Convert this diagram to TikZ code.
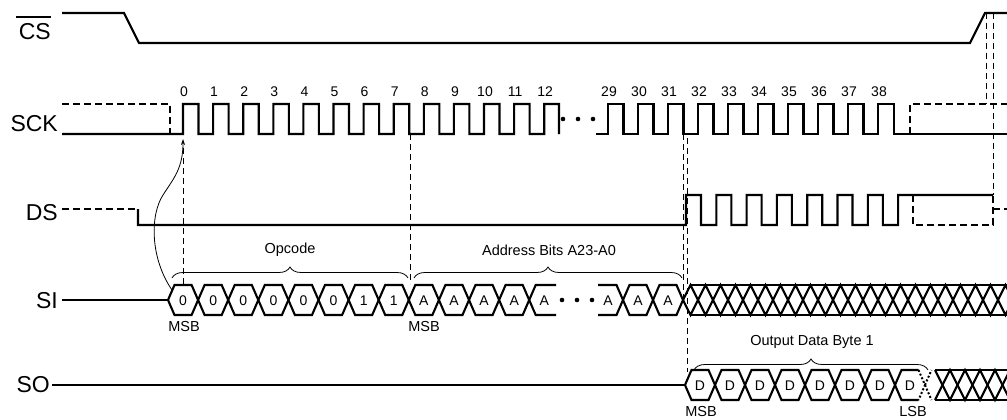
\documentclass[tikz,border=0pt]{standalone}
\usepackage{fontspec}
\setmainfont{Liberation Sans}
\usetikzlibrary{decorations.pathreplacing,arrows.meta}
\begin{document}
\begin{tikzpicture}[x=1pt,y=-1pt,
  sig/.style={line width=2.1pt,line join=miter,line cap=butt},
  dsig/.style={line width=2.1pt,dash pattern=on 7pt off 4pt},
  guide/.style={line width=1pt,dash pattern=on 6pt off 4pt},
  lbl/.style={font=\fontsize{23}{23}\selectfont,anchor=east,inner sep=0pt},
  small/.style={font=\fontsize{14}{14}\selectfont,inner sep=0pt},
  btxt/.style={font=\fontsize{14.5}{14.5}\selectfont,inner sep=0pt},
  brc/.style={decorate,decoration={brace,amplitude=11pt},line width=0.8pt}]
\clip (0,0) rectangle (1007,420);

% labels
\node[lbl] (cs) at (51,32) {CS};
\draw[line width=1.3pt] (16,17) -- (51,17);
\node[lbl] (sck) at (58,123.5) {SCK};
\node[lbl] (ds) at (58,213) {DS};
\node[lbl] (si) at (58,301) {SI};
\node[lbl] (so) at (50,385) {SO};

% CS
\draw[sig] (62,13) -- (124,13) -- (139,43) -- (970,43) -- (985,13) -- (1007,13);

% SCK
\draw[sig] (62,134) -- (183,134) foreach \k in {0,...,11} { -- ({183+30.1*\k},104) -- ({198.5+30.1*\k},104) -- ({198.5+30.1*\k},134) -- ({213.1+30.1*\k},134) } -- (544.2,104) -- (559,104) -- (559,134);
\draw[sig] (596,134) -- (608,134) foreach \k in {0,...,8} { -- ({608+30*\k},104) -- ({623.5+30*\k},104) -- ({623.5+30*\k},134) -- ({638+30*\k},134) } -- (878,104) -- (894,104) -- (894,134) -- (1007,134);
\fill (563,119) circle (2.3) (578,119) circle (2.3) (593,119) circle (2.3);
\draw[dsig] (62,104) -- (170,104) -- (170,134);
\draw[dsig] (910,134) -- (910,104) -- (1007,104);
\foreach \k in {0,...,12} \node[small] (c\k) at ({184+30.1*\k},92) {\k};
\foreach \k in {29,...,38} \node[small] (c\k) at ({609+30*(\k-29)},92) {\k};

% DS
\draw[dsig] (62,209) -- (138,209);
\draw[sig] (138,209) -- (138,225) -- (686,225) foreach \k in {0,...,6} { -- ({686+30.3*\k},195) -- ({701+30.3*\k},195) -- ({701+30.3*\k},225) -- ({716.3+30.3*\k},225) } -- (898.1,195) -- (993,195);
\draw[dsig] (913,195) -- (913,225) -- (993,225) -- (993,195);
\draw[dsig] (993,209) -- (1007,209);

% guides
\draw[guide] (986,13) -- (986,104);
\draw[guide] (993,13) -- (993,195);
\draw[guide] (183,148) -- (183,284);
\draw[guide] (410,134) -- (410,284);
\draw[guide] (683,134) -- (683,300);
\draw[guide] (687,138) -- (687,372);

% arrow
\draw[line width=0.8pt,-{Stealth[length=6pt,width=4pt]}] (172,290) .. controls (150,258) and (150,215) .. (163,195) .. controls (174,178) and (183,168) .. (183,139);

% SI
\draw[sig] (62,300) -- (168,300);
\foreach \k in {0,...,11}
  \draw[sig] ({168+30.1*\k},300) -- ({174.5+30.1*\k},285) -- ({191.6+30.1*\k},285) -- ({198.1+30.1*\k},300) -- ({191.6+30.1*\k},315) -- ({174.5+30.1*\k},315) -- cycle;
\draw[sig] (556,285) -- (535.7,285) -- (529.2,300) -- (535.7,315) -- (556,315);
\draw[sig] (598,285) -- (616.5,285) -- (623,300) -- (616.5,315) -- (598,315);
\foreach \a in {623,653}
  \draw[sig] (\a,300) -- ({\a+6.5},285) -- ({\a+23.5},285) -- ({\a+30},300) -- ({\a+23.5},315) -- ({\a+6.5},315) -- cycle;
\draw[sig] (683,300) -- (690.5,315) foreach \k in {0,...,10} { -- ({705.5+30*\k},285) -- ({720.5+30*\k},315) };
\draw[sig] (683,300) -- (690.5,285) foreach \k in {0,...,10} { -- ({705.5+30*\k},315) -- ({720.5+30*\k},285) };
\draw[sig] (690.5,285) -- (1007,285) (690.5,315) -- (1007,315);
\fill (562,300) circle (2.3) (577,300) circle (2.3) (592,300) circle (2.3);
\foreach \k/\t in {0/0,1/0,2/0,3/0,4/0,5/0,6/1,7/1,8/A,9/A,10/A,11/A,12/A}
  \node[small] (si\k) at ({183.1+30.1*\k},301) {\t};
\foreach \x in {608,638,668} \node[small] at (\x,301) {A};
\node[btxt] (msb1) at (184,327) {MSB};
\node[btxt] (msb2) at (424,327) {MSB};

% SO
\draw[sig] (52,385) -- (685,385);
\foreach \k in {0,...,6}
  \draw[sig] ({685+30*\k},385) -- ({691.5+30*\k},370) -- ({708.5+30*\k},370) -- ({715+30*\k},385) -- ({708.5+30*\k},400) -- ({691.5+30*\k},400) -- cycle;
\draw[sig] (918.5,370) -- (901.5,370) -- (895,385) -- (901.5,400) -- (918.5,400);
\draw[line width=2pt,dash pattern=on 2pt off 2pt] (918.5,370) -- (925,385) -- (918.5,400) (925,385) -- (931.5,370) (925,385) -- (931.5,400);
\draw[sig] (935,370) foreach \k in {0,...,2} { -- ({950+30*\k},400) -- ({965+30*\k},370) };
\draw[sig] (935,400) foreach \k in {0,...,2} { -- ({950+30*\k},370) -- ({965+30*\k},400) };
\draw[sig] (935,370) -- (1007,370) (935,400) -- (1007,400);
\foreach \k in {0,...,7} \node[small] (so\k) at ({700+30*\k},386) {D};
\node[btxt] (msb3) at (701,412) {MSB};
\node[btxt] (lsb) at (913,412) {LSB};

% braces
\draw[brc] (172,278) -- (408,278);
\draw[brc] (414,278) -- (682,278);
\draw[brc] (694,370) -- (928,370);
\node[btxt] (op) at (290,250) {Opcode};
\node[btxt] (ad) at (549,250) {Address Bits A23-A0};
\node[btxt] (od) at (812,342) {Output Data Byte 1};
\end{tikzpicture}
\end{document}
